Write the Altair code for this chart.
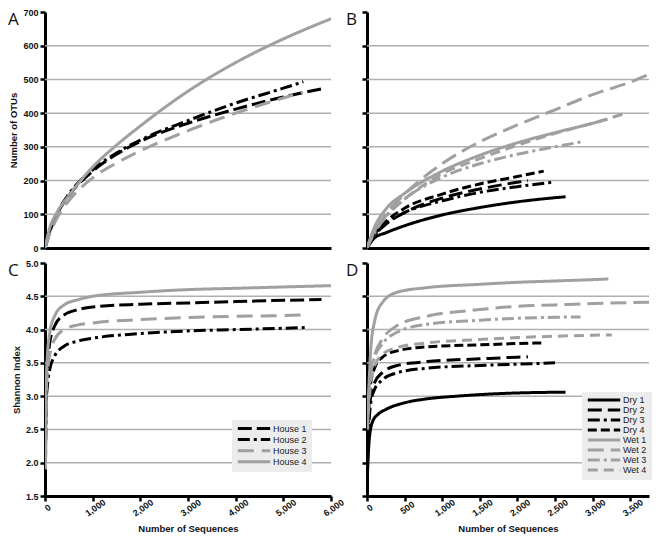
import altair as alt
import pandas as pd

FONT = "Liberation Sans"
BLACK = "#000000"
GRAY = "#a0a0a0"

# ---------------- Panel A: OTUs, houses ----------------
house_names = ["House 1", "House 2", "House 3", "House 4"]
house_colors = [BLACK, BLACK, GRAY, GRAY]
house_dashes = [[14, 5], [12, 4, 3, 4], [16, 8], [1, 0]]

h1_otu_seq = [0, 100, 250, 500, 1000, 1500, 2000, 3000, 4000, 5000, 5800]
h1_otu = [0, 48, 100, 155, 228, 278, 316, 370, 412, 448, 472]
h2_otu_seq = [0, 100, 250, 500, 1000, 1500, 2000, 3000, 4000, 5000, 5420]
h2_otu = [0, 50, 102, 160, 232, 282, 320, 378, 430, 474, 493]
h3_otu_seq = [0, 100, 250, 500, 1000, 1500, 2000, 3000, 4000, 5000, 5400]
h3_otu = [0, 42, 88, 140, 208, 252, 288, 348, 400, 445, 462]
h4_otu_seq = [0, 100, 250, 500, 1000, 1500, 2000, 3000, 4000, 5000, 6000]
h4_otu = [0, 60, 105, 155, 240, 305, 362, 465, 550, 620, 680]

# ---------------- Panel C: Shannon, houses ----------------
h1_sh_seq = [10, 25, 50, 100, 200, 400, 700, 1000, 2000, 3000, 4000, 5000, 5800]
h1_sh = [2.0, 3.1, 3.45, 3.8, 4.05, 4.22, 4.3, 4.34, 4.38, 4.4, 4.42, 4.44, 4.45]
h2_sh_seq = [10, 25, 50, 100, 200, 400, 700, 1000, 2000, 3000, 4000, 5000, 5450]
h2_sh = [2.0, 2.9, 3.15, 3.4, 3.6, 3.75, 3.83, 3.87, 3.94, 3.98, 4.0, 4.02, 4.03]
h3_sh_seq = [10, 25, 50, 100, 200, 400, 700, 1000, 2000, 3000, 4000, 5000, 5400]
h3_sh = [2.0, 3.0, 3.35, 3.62, 3.85, 4.0, 4.07, 4.1, 4.15, 4.18, 4.2, 4.21, 4.22]
h4_sh_seq = [10, 25, 50, 100, 200, 400, 700, 1000, 2000, 3000, 4000, 5000, 6000]
h4_sh = [1.9, 3.2, 3.6, 3.95, 4.2, 4.37, 4.45, 4.5, 4.56, 4.6, 4.62, 4.64, 4.66]

# ---------------- Panel B: OTUs, dry / wet ----------------
dw_names = ["Dry 1", "Dry 2", "Dry 3", "Dry 4", "Wet 1", "Wet 2", "Wet 3", "Wet 4"]
dw_colors = [BLACK, BLACK, BLACK, BLACK, GRAY, GRAY, GRAY, GRAY]
dw_dashes = [[1, 0], [14, 6], [12, 4, 3, 4], [9, 4], [1, 0], [16, 7], [12, 4, 3, 4], [10, 6]]

d1_otu_seq = [0, 100, 250, 500, 1000, 1500, 2000, 2640]
d1_otu = [0, 30, 45, 66, 98, 120, 137, 152]
d2_otu_seq = [0, 100, 250, 500, 1000, 1500, 2000, 2140]
d2_otu = [0, 38, 70, 105, 148, 175, 195, 200]
d3_otu_seq = [0, 100, 250, 500, 1000, 1500, 2000, 2460]
d3_otu = [0, 38, 72, 105, 140, 165, 182, 195]
d4_otu_seq = [0, 100, 250, 500, 1000, 1500, 2000, 2350]
d4_otu = [0, 42, 78, 118, 160, 190, 212, 228]
w1_otu_seq = [0, 100, 250, 500, 1000, 1500, 2000, 2500, 3000, 3200]
w1_otu = [0, 62, 115, 162, 228, 275, 312, 342, 370, 382]
w2_otu_seq = [0, 100, 250, 500, 1000, 1500, 2000, 2500, 3000, 3500, 3750]
w2_otu = [0, 50, 100, 160, 250, 315, 365, 410, 455, 492, 515]
w3_otu_seq = [0, 100, 250, 500, 1000, 1500, 2000, 2500, 2860]
w3_otu = [0, 45, 92, 145, 210, 250, 278, 300, 315]
w4_otu_seq = [0, 100, 250, 500, 1000, 1500, 2000, 2500, 3000, 3400]
w4_otu = [0, 50, 95, 145, 220, 265, 305, 340, 370, 397]

# ---------------- Panel D: Shannon, dry / wet ----------------
d1_sh_seq = [5, 30, 75, 150, 250, 500, 800, 1200, 1800, 2640]
d1_sh = [1.8, 2.35, 2.62, 2.73, 2.8, 2.9, 2.96, 3.0, 3.04, 3.06]
d2_sh_seq = [5, 50, 100, 200, 400, 800, 1500, 2000, 2140]
d2_sh = [2.3, 3.0, 3.2, 3.35, 3.46, 3.52, 3.56, 3.585, 3.59]
d3_sh_seq = [5, 50, 100, 200, 400, 800, 1500, 2000, 2500]
d3_sh = [2.3, 2.9, 3.1, 3.24, 3.35, 3.42, 3.46, 3.48, 3.5]
d4_sh_seq = [5, 50, 100, 200, 400, 800, 1500, 2000, 2340]
d4_sh = [2.4, 3.2, 3.42, 3.58, 3.68, 3.74, 3.77, 3.79, 3.8]
w1_sh_seq = [5, 50, 100, 200, 400, 800, 1500, 2000, 2500, 3000, 3210]
w1_sh = [2.5, 3.7, 4.12, 4.4, 4.56, 4.63, 4.68, 4.71, 4.73, 4.75, 4.76]
w2_sh_seq = [5, 50, 100, 200, 400, 800, 1500, 2000, 2500, 3000, 3750]
w2_sh = [2.6, 3.4, 3.62, 3.85, 4.06, 4.2, 4.3, 4.35, 4.37, 4.39, 4.41]
w3_sh_seq = [5, 50, 100, 200, 400, 800, 1500, 2000, 2500, 2840]
w3_sh = [2.6, 3.35, 3.58, 3.78, 3.96, 4.08, 4.14, 4.17, 4.185, 4.19]
w4_sh_seq = [5, 50, 100, 200, 400, 800, 1500, 2000, 2500, 3000, 3255]
w4_sh = [2.5, 3.2, 3.45, 3.62, 3.73, 3.8, 3.85, 3.88, 3.9, 3.915, 3.92]

# axis ticks / grid
otu_ticks = [0, 100, 200, 300, 400, 500, 600, 700]
otu_grid = [100, 200, 300, 400, 500, 600]
sh_ticks = [1.5, 2.0, 2.5, 3.0, 3.5, 4.0, 4.5, 5.0]
sh_grid = [2.0, 2.5, 3.0, 3.5, 4.0, 4.5]
house_xticks = [0, 1000, 2000, 3000, 4000, 5000, 6000]
dw_xticks = [0, 500, 1000, 1500, 2000, 2500, 3000, 3500]

letter_x = {"A": -37, "B": -21, "C": -37, "D": -21}


def frame(series):
    rows = []
    for name, xs, ys in series:
        for x, y in zip(xs, ys):
            rows.append({"series": name, "seq": x, "val": y})
    return pd.DataFrame(rows)


def panel(df, names, colors, dashes, xmax, ydom, yticks, grid, w, h, letter,
          ylabels, ytitle, xlabels, xticks, legend_pos, clip_h, row_pad, ylabel_expr):
    xs = alt.Scale(domain=[0, xmax], nice=False, zero=False)
    ys = alt.Scale(domain=ydom, nice=False, zero=False)
    if xlabels:
        xaxis = alt.Axis(values=xticks, labelExpr="format(datum.value, ',')",
                         labelAngle=325, labelAlign="center",
                         labelBaseline="top", labelFont=FONT, labelFontSize=9,
                         labelFontWeight="bold", labelColor="#111", labelPadding=3,
                         tickColor=BLACK, tickWidth=2.5, tickSize=5,
                         domainColor=BLACK, domainWidth=3, grid=False,
                         title="Number of Sequences", titleFont=FONT, titleFontSize=9.5,
                         titleFontWeight="bold", titleColor="#111", titlePadding=6)
    else:
        xaxis = alt.Axis(labels=False, ticks=False, domainColor=BLACK, domainWidth=3,
                         grid=False, title=None)
    yaxis_kw = dict(values=yticks, labels=ylabels, tickColor=BLACK, tickWidth=2.5,
                    tickSize=5, domainColor=BLACK, domainWidth=3, grid=False,
                    labelFont=FONT, labelFontSize=9, labelFontWeight="bold",
                    labelColor="#111", labelPadding=2)
    if ylabel_expr:
        yaxis_kw["labelExpr"] = ylabel_expr
    if ytitle:
        yaxis_kw.update(title=ytitle, titleFont=FONT, titleFontSize=9.5,
                        titleFontWeight="bold", titleColor="#111", titlePadding=4)
    else:
        yaxis_kw["title"] = None
    yaxis = alt.Axis(**yaxis_kw)

    if legend_pos is None:
        leg = None
    else:
        leg = alt.Legend(orient="none", legendX=legend_pos[0], legendY=legend_pos[1],
                         title=None, symbolType="stroke", symbolSize=1050,
                         symbolStrokeWidth=3, clipHeight=clip_h, rowPadding=row_pad,
                         labelFont=FONT, labelFontSize=9, labelColor="#222",
                         labelOffset=1, fillColor="#ececec", padding=4,
                         strokeColor="#ececec")

    gridl = alt.Chart(pd.DataFrame({"g": grid})).mark_rule(
        color="#b0b0b0", strokeWidth=1.5
    ).encode(y=alt.Y("g:Q", scale=ys, axis=yaxis))

    lines = alt.Chart(df).mark_line(strokeWidth=3, interpolate="monotone", clip=True).encode(
        x=alt.X("seq:Q", scale=xs, axis=xaxis),
        y=alt.Y("val:Q", scale=ys, axis=yaxis),
        color=alt.Color("series:N", scale=alt.Scale(domain=names, range=colors), legend=leg),
        strokeDash=alt.StrokeDash("series:N", scale=alt.Scale(domain=names, range=dashes),
                                  legend=leg),
    )

    lab = alt.Chart(pd.DataFrame({"t": [letter]})).mark_text(
        align="left", baseline="top", font="Open Sans", fontSize=17, color="#111"
    ).encode(x=alt.value(letter_x[letter]), y=alt.value(0), text="t:N")

    return alt.layer(gridl, lines, lab).properties(width=w, height=h)


dfA = frame([("House 1", h1_otu_seq, h1_otu), ("House 2", h2_otu_seq, h2_otu),
             ("House 3", h3_otu_seq, h3_otu), ("House 4", h4_otu_seq, h4_otu)])
dfC = frame([("House 1", h1_sh_seq, h1_sh), ("House 2", h2_sh_seq, h2_sh),
             ("House 3", h3_sh_seq, h3_sh), ("House 4", h4_sh_seq, h4_sh)])
dfB = frame([("Dry 1", d1_otu_seq, d1_otu), ("Dry 2", d2_otu_seq, d2_otu),
             ("Dry 3", d3_otu_seq, d3_otu), ("Dry 4", d4_otu_seq, d4_otu),
             ("Wet 1", w1_otu_seq, w1_otu), ("Wet 2", w2_otu_seq, w2_otu),
             ("Wet 3", w3_otu_seq, w3_otu), ("Wet 4", w4_otu_seq, w4_otu)])
dfD = frame([("Dry 1", d1_sh_seq, d1_sh), ("Dry 2", d2_sh_seq, d2_sh),
             ("Dry 3", d3_sh_seq, d3_sh), ("Dry 4", d4_sh_seq, d4_sh),
             ("Wet 1", w1_sh_seq, w1_sh), ("Wet 2", w2_sh_seq, w2_sh),
             ("Wet 3", w3_sh_seq, w3_sh), ("Wet 4", w4_sh_seq, w4_sh)])

W_L, W_R, H_T, H_B = 286, 282, 236, 233
sh_fmt = "format(datum.value, '.1f')"

pA = panel(dfA, house_names, house_colors, house_dashes, 6000, [0, 700], otu_ticks, otu_grid,
           W_L, H_T, "A", True, "Number of OTUs", False, None, None, 9, 1, None)
pB = panel(dfB, dw_names, dw_colors, dw_dashes, 3750, [0, 700], otu_ticks, otu_grid,
           W_R, H_T, "B", False, None, False, None, None, 8, 1, None)
pC = panel(dfC, house_names, house_colors, house_dashes, 6000, [1.5, 5.0], sh_ticks, sh_grid,
           W_L, H_B, "C", True, "Shannon Index", True, house_xticks, (187, 157), 9, 1.1, sh_fmt)
pD = panel(dfD, dw_names, dw_colors, dw_dashes, 3750, [1.5, 5.0], sh_ticks, sh_grid,
           W_R, H_B, "D", False, None, True, dw_xticks, (215, 129), 8, 1.0, sh_fmt)

chart = alt.concat(
    pA, pB, pC, pD, columns=2, spacing={"row": 15, "column": 36}, bounds="flush"
).resolve_scale(
    x="independent", y="independent", color="independent", strokeDash="independent"
).resolve_legend(
    color="independent", strokeDash="independent"
).properties(padding=0, background="white").configure_view(stroke=None)

chart.save("out.html", embed_options={"renderer": "svg", "actions": False})
